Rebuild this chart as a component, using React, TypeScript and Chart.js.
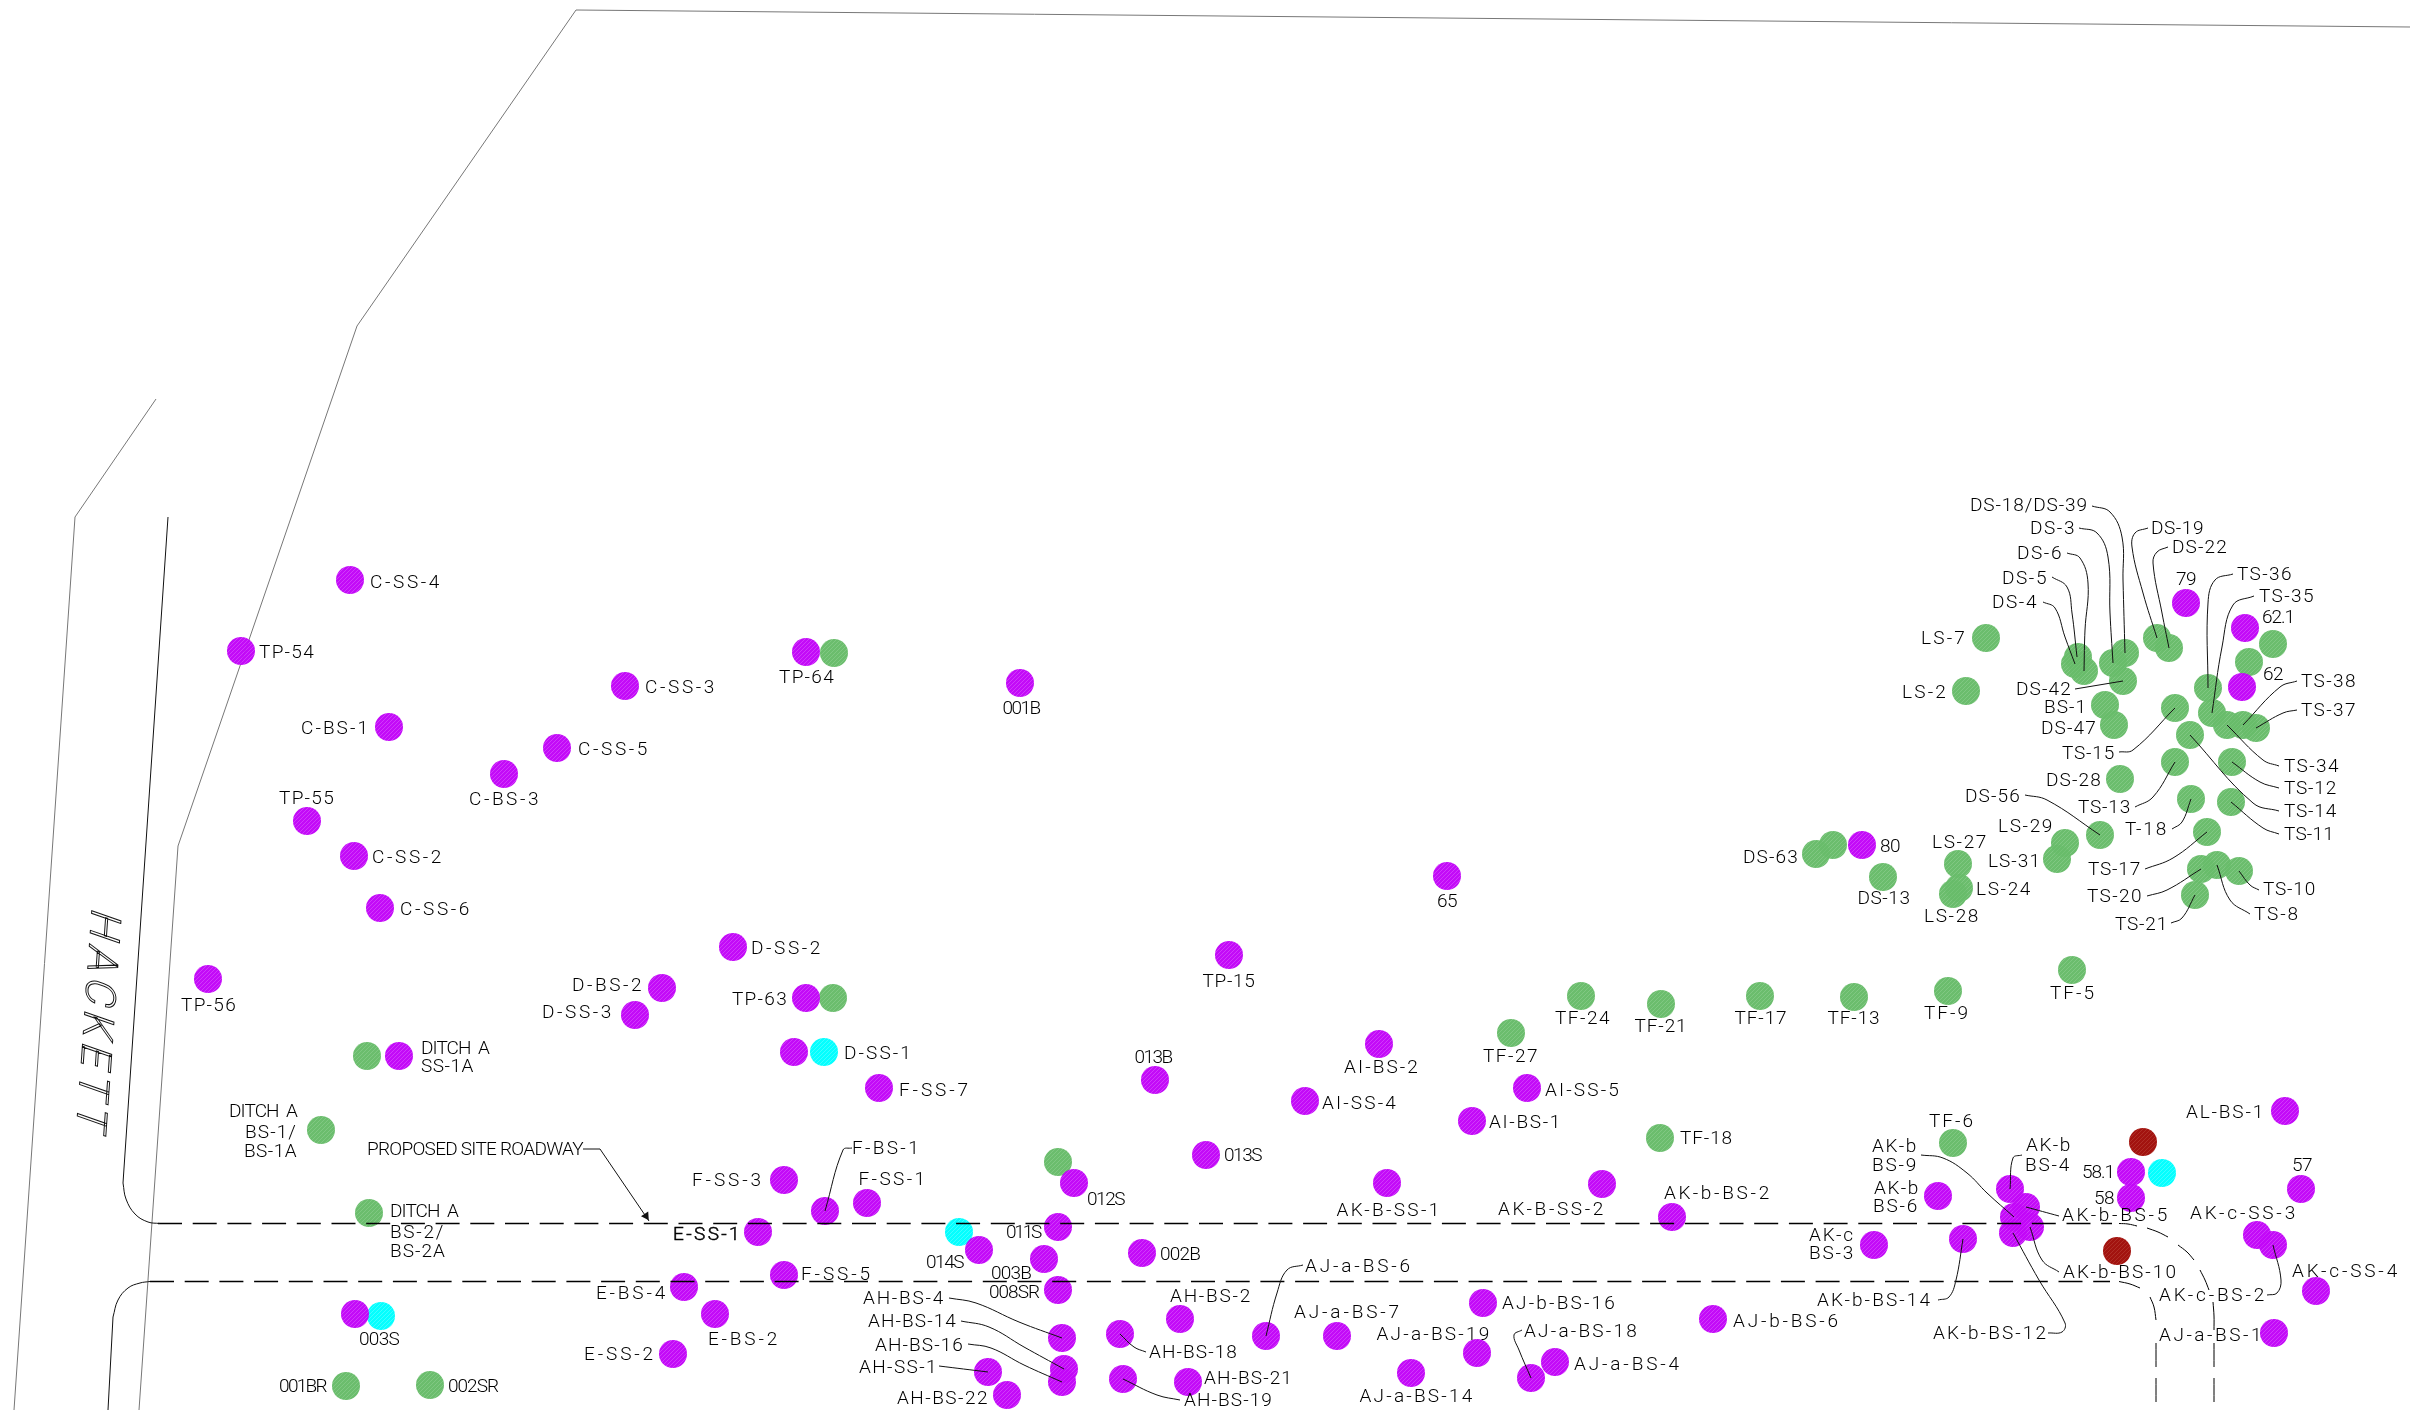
import React, { useEffect, useRef } from "react";
import { Chart, registerables } from "chart.js";

Chart.register(...registerables);

type P = [number, number];

const purpleSites: P[] = [
  [350,580],[241,651],[806,652],[625,686],[1020,683],[389,727],[557,748],[504,774],[307,821],[354,856],[380,908],
  [733,947],[208,979],[662,988],[635,1015],[806,998],[399,1056],[794,1052],[784,1180],[758,1232],[684,1287],[784,1275],
  [355,1314],[715,1314],[673,1354],[879,1088],[1155,1080],[1379,1044],[1305,1101],[1527,1088],[1472,1121],[825,1211],
  [867,1203],[1074,1183],[1206,1155],[1387,1183],[1602,1184],[979,1250],[1058,1227],[1044,1259],[1142,1253],[1058,1290],
  [1062,1338],[1064,1369],[1062,1382],[988,1372],[1007,1395],[1120,1334],[1180,1319],[1123,1379],[1188,1382],[1266,1336],
  [1337,1336],[1483,1303],[1477,1353],[1411,1373],[1555,1362],[1531,1378],[1229,955],[2285,1111],[2131,1172],[2131,1198],
  [2301,1189],[1672,1217],[1938,1196],[1874,1245],[1963,1239],[2010,1189],[2026,1207],[2014,1217],[2030,1227],[2013,1233],
  [2257,1235],[2273,1245],[2316,1291],[2274,1333],[1713,1319],[2186,603],[2245,628],[2242,687],[1447,876],[1862,845],
];
const greenSites: P[] = [
  [834,653],[833,998],[367,1056],[321,1130],[369,1213],[346,1386],[430,1385],[1058,1162],[1511,1033],[1581,996],[1661,1004],
  [1760,996],[1854,997],[1948,991],[2072,970],[1660,1138],[1953,1143],[1986,638],[1966,691],[2273,644],[2249,662],
  [2078,657],[2075,664],[2084,671],[2125,653],[2113,663],[2123,681],[2157,638],[2169,648],[2105,705],[2114,725],
  [2175,708],[2208,688],[2212,713],[2227,725],[2243,725],[2256,728],[2190,735],[2175,762],[2232,762],[2120,779],
  [2191,799],[2231,802],[2100,835],[2207,832],[2065,843],[2057,859],[1958,864],[1959,888],[1953,894],[2201,869],
  [2217,865],[2239,871],[2195,895],[1816,854],[1833,845],[1883,877],
];
const cyanSites: P[] = [[824,1052],[381,1316],[959,1232],[2162,1173]];
const redSites: P[] = [[2143,1142],[2117,1251]];
const arrowTip: P[] = [[646,1216]];

// text, x, y, anchor (l / r / c)
const siteLabels: [string, number, number, string][] = [
  ["C-SS-4",370,582,"l"],["TP-54",259,652,"l"],["TP-64",807,677,"c"],["C-SS-3",645,687,"l"],["001B",1021,708,"c"],
  ["C-BS-1",370,728,"r"],["C-SS-5",578,749,"l"],["C-BS-3",505,799,"c"],["TP-55",307,798,"c"],["C-SS-2",372,857,"l"],
  ["C-SS-6",400,909,"l"],["D-SS-2",751,948,"l"],["TP-56",209,1005,"c"],["D-BS-2",644,985,"r"],["D-SS-3",614,1012,"r"],
  ["TP-63",788,999,"r"],["DITCH  A",421,1048,"l"],["SS-1A",421,1066,"l"],["DITCH  A",297,1111,"r"],["BS-1/",297,1132,"r"],
  ["BS-1A",297,1151,"r"],["PROPOSED SITE ROADWAY",583,1149,"r"],["F-SS-3",764,1180,"r"],["DITCH  A",390,1211,"l"],
  ["BS-2/",390,1232,"l"],["BS-2A",390,1251,"l"],["E-SS-1",742,1234,"r"],["E-BS-4",668,1293,"r"],["003S",379,1339,"c"],
  ["E-BS-2",744,1339,"c"],["E-SS-2",656,1354,"r"],["001BR",326,1386,"r"],["002SR",448,1386,"l"],
  ["TP-15",1229,981,"c"],["D-SS-1",844,1053,"l"],["F-SS-7",899,1090,"l"],["013B",1153,1057,"c"],["AI-BS-2",1382,1067,"c"],
  ["TF-27",1511,1056,"c"],["AI-SS-4",1322,1103,"l"],["AI-SS-5",1545,1090,"l"],["AI-BS-1",1489,1122,"l"],["F-BS-1",852,1148,"l"],
  ["F-SS-1",893,1179,"c"],["012S",1087,1199,"l"],["013S",1224,1155,"l"],["AK-B-SS-1",1389,1210,"c"],["AK-B-SS-2",1498,1209,"l"],
  ["011S",1040,1232,"r"],["014S",963,1262,"r"],["002B",1160,1254,"l"],["003B",1031,1273,"r"],["008SR",1039,1292,"r"],
  ["F-SS-5",801,1274,"l"],["AH-BS-4",945,1298,"r"],["AH-BS-14",957,1321,"r"],["AH-BS-16",964,1345,"r"],["AH-SS-1",938,1367,"r"],
  ["AH-BS-22",989,1398,"r"],["AH-BS-2",1211,1296,"c"],["AH-BS-18",1149,1352,"l"],["AH-BS-21",1204,1378,"l"],["AH-BS-19",1184,1400,"l"],
  ["AJ-a-BS-6",1305,1266,"l"],["AJ-a-BS-7",1348,1312,"c"],["AJ-b-BS-16",1502,1303,"l"],["AJ-a-BS-19",1434,1334,"c"],
  ["AJ-a-BS-14",1417,1396,"c"],["AJ-a-BS-18",1524,1331,"l"],["AJ-a-BS-4",1574,1364,"l"],
  ["TF-24",1583,1018,"c"],["TF-21",1661,1026,"c"],["TF-17",1761,1018,"c"],["TF-13",1854,1018,"c"],["TF-9",1947,1013,"c"],["TF-5",2073,993,"c"],
  ["TF-18",1680,1138,"l"],["TF-6",1952,1121,"c"],["AK-b",1872,1146,"l"],["BS-9",1872,1165,"l"],["AK-b",1874,1188,"l"],["BS-6",1873,1206,"l"],
  ["AK-b-BS-2",1718,1193,"c"],["AK-c",1809,1235,"l"],["BS-3",1809,1253,"l"],["AK-b",2026,1145,"l"],["BS-4",2025,1165,"l"],
  ["58.1",2114,1172,"r"],["58",2114,1198,"r"],["57",2302,1165,"c"],["AL-BS-1",2265,1112,"r"],["AK-b-BS-5",2062,1215,"l"],
  ["AK-c-SS-3",2190,1213,"l"],["AK-b-BS-10",2063,1272,"l"],["AK-c-SS-4",2292,1271,"l"],["AK-c-BS-2",2159,1295,"l"],
  ["AK-b-BS-14",1817,1300,"l"],["AK-b-BS-12",1933,1333,"l"],["AJ-a-BS-1",2159,1335,"l"],["AJ-b-BS-6",1733,1321,"l"],
  ["DS-18/DS-39",2088,505,"r"],["DS-3",2076,528,"r"],["DS-6",2063,553,"r"],["DS-5",2048,578,"r"],["DS-4",2038,602,"r"],
  ["DS-19",2151,528,"l"],["DS-22",2172,547,"l"],["79",2186,579,"c"],["TS-36",2237,574,"l"],["TS-35",2259,596,"l"],["62.1",2262,617,"l"],
  ["62",2263,674,"l"],["LS-7",1967,638,"r"],["LS-2",1948,692,"r"],["DS-42",2072,689,"r"],["BS-1",2087,707,"r"],["DS-47",2097,728,"r"],
  ["TS-38",2301,681,"l"],["TS-37",2301,710,"l"],["TS-15",2115,753,"r"],["TS-34",2284,766,"l"],["TS-12",2284,788,"l"],["TS-14",2284,811,"l"],
  ["TS-11",2284,834,"l"],["DS-28",2102,780,"r"],["DS-56",2021,796,"r"],["TS-13",2131,807,"r"],["T-18",2168,829,"r"],["LS-29",2054,826,"r"],
  ["LS-27",1960,842,"c"],["LS-31",2041,861,"r"],["TS-17",2141,869,"r"],["TS-10",2263,889,"l"],["LS-24",1976,889,"l"],["TS-20",2143,896,"r"],
  ["TS-8",2254,914,"l"],["LS-28",1952,916,"c"],["TS-21",2168,924,"r"],
  ["65",1447,901,"c"],["80",1880,846,"l"],["DS-63",1799,857,"r"],["DS-13",1884,898,"c"],
];
const emphasisedLabel = "E-SS-1";

const streetName = "HACKETT";
const streetAnchor: P = [92, 907];

const grayBoundaries: P[][] = [
  [[2410,27],[576,10],[357,326],[178,846],[139,1410]],
  [[156,399],[75,517],[14,1410]],
];
const solidRoadEdges: P[][] = [
  [[168,517],[123,1183]],
  [[108,1410],[113,1317]],
];
const roadCurves: P[][] = [
  [[123,1183],[126,1199],[135,1214],[148,1222],[160,1223.5]],
  [[113,1317],[118,1300],[128,1288],[140,1283],[150,1281.5]],
];
const dashedRoads: P[][] = [
  [[158,1223.5],[2112,1223.5]],
  [[150,1281.5],[2110,1281.5]],
];
const roadEndPieces: P[][] = [
  [[2119,1223.5],[2128,1224],[2137,1226]],
  [[2147,1228],[2158,1232],[2168,1237]],
  [[2178,1245],[2187,1252],[2194,1260]],
  [[2200,1270],[2205,1280],[2209,1290]],
  [[2213,1302],[2214,1316],[2214,1330]],
  [[2214,1343],[2214,1367]],
  [[2214,1378],[2214,1402]],
  [[2119,1281.5],[2130,1284],[2140,1288]],
  [[2150,1297],[2154,1307],[2156,1320]],
  [[2156,1343],[2156,1367]],
  [[2156,1378],[2156,1402]],
];
const straightLeaders: P[][] = [
  [[583,1149],[600,1149],[649,1221]],
  [[2075,689],[2123,681]],
];
const curvedLeaders: P[][] = [
  [[852,1148],[843,1150],[825,1211]],
  [[949,1298],[976,1303],[1019,1322],[1062,1338]],
  [[961,1321],[989,1327],[1024,1347],[1064,1369]],
  [[968,1344],[991,1348],[1024,1365],[1062,1382]],
  [[939,1366],[988,1372]],
  [[1120,1334],[1134,1347],[1146,1352]],
  [[1123,1379],[1157,1395],[1180,1400]],
  [[1303,1265],[1287,1270],[1277,1293],[1266,1336]],
  [[1522,1330],[1514,1335],[1519,1350],[1531,1378]],
  [[1921,1155],[1943,1158],[1967,1173],[1987,1193],[2014,1217]],
  [[2022,1155],[2013,1158],[2010,1189]],
  [[2026,1207],[2059,1216]],
  [[2030,1227],[2042,1260],[2059,1272]],
  [[2013,1233],[2039,1280],[2065,1323],[2062,1332],[2048,1333]],
  [[1963,1239],[1956,1280],[1949,1297],[1938,1300]],
  [[2273,1245],[2281,1280],[2277,1293],[2267,1295]],
  [[2092,506],[2110,512],[2122,537],[2123,580],[2125,653]],
  [[2079,528],[2097,533],[2108,557],[2110,613],[2113,663]],
  [[2067,553],[2080,558],[2088,583],[2085,630],[2084,671]],
  [[2052,577],[2067,587],[2072,613],[2077,657]],
  [[2043,602],[2055,608],[2065,637],[2075,664]],
  [[2148,528],[2135,533],[2132,547],[2143,593],[2157,638]],
  [[2168,547],[2157,552],[2153,563],[2162,613],[2169,648]],
  [[2233,574],[2215,580],[2208,603],[2208,688]],
  [[2254,596],[2233,605],[2222,647],[2212,713]],
  [[2297,681],[2280,687],[2243,725]],
  [[2297,710],[2283,713],[2256,728]],
  [[2119,752],[2133,750],[2175,708]],
  [[2227,725],[2263,760],[2279,766]],
  [[2232,762],[2260,782],[2279,788]],
  [[2190,735],[2253,803],[2279,811]],
  [[2231,802],[2263,828],[2279,834]],
  [[2175,762],[2153,797],[2135,807]],
  [[2191,799],[2182,822],[2172,829]],
  [[2025,795],[2047,800],[2100,835]],
  [[2207,832],[2173,858],[2145,869]],
  [[2201,869],[2167,890],[2147,896]],
  [[2195,895],[2182,918],[2171,923]],
  [[2217,865],[2230,900],[2250,914]],
  [[2239,871],[2250,885],[2259,890]],
];

const LABEL_FONT = "300 19px Roboto, 'Liberation Sans', sans-serif";

// Approximate advance of the drawing's plotter lettering, so each label keeps the original's width.
function plotterWidth(text: string) {
  const parts = text.split("  ");
  let w = (parts.length - 1) * 14;
  for (const part of parts) {
    for (const ch of part) {
      if (ch === "-") w += 16;
      else if (ch === " ") w += 16;
      else if (ch === "I") w += 4;
      else if (ch === ".") w += 5;
      else if (ch === "1") w += 7;
      else if (ch === "/") w += 9;
      else w += 10;
    }
  }
  return w;
}

function hatch(base: string, stripe: string) {
  const tile = document.createElement("canvas");
  tile.width = 4;
  tile.height = 4;
  const t = tile.getContext("2d")!;
  t.fillStyle = base;
  t.fillRect(0, 0, 4, 4);
  for (let i = 0; i < 4; i++) {
    const x = 3 - i;
    t.clearRect(x, i, 1, 1);
    t.fillStyle = stripe;
    t.fillRect(x, i, 1, 1);
  }
  return t.createPattern(tile, "repeat")!;
}

const toXY = (pts: P[]) => pts.map(([x, y]) => ({ x, y }));

const labelPlugin = {
  id: "siteLabels",
  afterDatasetsDraw(chart: any) {
    const { ctx, scales } = chart;
    const sx = scales.x;
    const sy = scales.y;
    ctx.save();
    ctx.textBaseline = "middle";
    ctx.fillStyle = "#000000";
    ctx.strokeStyle = "#000000";
    ctx.lineWidth = 0.5;
    ctx.font = LABEL_FONT;
    for (const [text, x, y, a] of siteLabels) {
      (ctx as any).letterSpacing = "0px";
      const natural = ctx.measureText(text).width;
      (ctx as any).letterSpacing = `${((plotterWidth(text) - natural) / text.length).toFixed(2)}px`;
      ctx.textAlign = a === "l" ? "left" : a === "r" ? "right" : "center";
      const px = sx.getPixelForValue(x);
      const py = sy.getPixelForValue(y) + 1;
      ctx.fillText(text, px, py);
      if (text === emphasisedLabel) ctx.strokeText(text, px, py);
    }
    ctx.restore();

    ctx.save();
    const ax = sx.getPixelForValue(streetAnchor[0]);
    const ay = sy.getPixelForValue(streetAnchor[1]);
    const th = (94 * Math.PI) / 180;
    ctx.translate(ax, ay);
    ctx.rotate(th);
    ctx.transform(1, 0, -0.27, 1, 0, 0);
    ctx.font = "300 42px Roboto, 'Liberation Sans', sans-serif";
    ctx.textAlign = "left";
    ctx.textBaseline = "alphabetic";
    (ctx as any).letterSpacing = "6px";
    ctx.lineWidth = 1;
    ctx.strokeStyle = "#111";
    ctx.strokeText(streetName, 0, 0);
    ctx.restore();
  },
};

export default function App() {
  const ref = useRef<HTMLCanvasElement>(null);
  useEffect(() => {
    document.body.style.margin = "0";
    document.body.style.overflow = "hidden";
    const markers = (pts: P[], color: any, order: number) => ({
      data: toXY(pts),
      showLine: false,
      pointRadius: 14,
      pointBorderWidth: 0,
      pointBackgroundColor: color,
      order,
    });
    const line = (pts: P[], color: string, order: number, tension: number, dash: number[] = [], width = 1) => ({
      data: toXY(pts),
      showLine: true,
      pointRadius: 0,
      borderColor: color,
      borderWidth: width,
      borderDash: dash,
      tension,
      fill: false,
      order,
    });
    const datasets: any[] = [
      markers(greenSites, hatch("rgba(104,188,106,0.98)", "rgba(114,194,116,0.9)"), 13),
      markers(cyanSites, hatch("rgba(0,255,255,0.98)", "rgba(40,255,255,0.9)"), 12),
      markers(redSites, hatch("rgba(160,14,10,0.98)", "rgba(168,28,20,0.92)"), 11),
      markers(purpleSites, hatch("rgba(194,6,248,0.98)", "rgba(204,36,250,0.9)"), 10),
      ...grayBoundaries.map((p) => line(p, "#777777", 20, 0)),
      ...solidRoadEdges.map((p) => line(p, "#111111", 5, 0)),
      ...roadCurves.map((p) => line(p, "#111111", 5, 0.4)),
      ...dashedRoads.map((p) => line(p, "#000000", 5, 0, [24, 10.7], 1.3)),
      ...roadEndPieces.map((p) => line(p, "#000000", 5, 0.4, [], 1)),
      ...straightLeaders.map((p) => line(p, "#111111", 4, 0)),
      ...curvedLeaders.map((p) => line(p, "#111111", 4, 0.4)),
      {
        data: toXY(arrowTip),
        showLine: false,
        pointStyle: "triangle",
        pointRadius: 5,
        pointRotation: 146,
        pointBackgroundColor: "#111111",
        pointBorderWidth: 0,
        order: 3,
      },
    ];
    const chart = new Chart(ref.current!, {
      type: "scatter",
      data: { datasets },
      plugins: [labelPlugin],
      options: {
        animation: false,
        responsive: false,
        devicePixelRatio: 1,
        events: [],
        layout: { padding: 0, autoPadding: false },
        plugins: { legend: { display: false }, tooltip: { enabled: false }, title: { display: false } },
        scales: {
          x: { type: "linear", min: 0, max: 2410, display: false },
          y: { type: "linear", min: 0, max: 1410, reverse: true, display: false },
        },
      },
    } as any);
    return () => chart.destroy();
  }, []);
  return (
    <canvas
      ref={ref}
      width={2410}
      height={1410}
      style={{ display: "block", position: "absolute", left: 0, top: 0, width: 2410, height: 1410 }}
    />
  );
}
